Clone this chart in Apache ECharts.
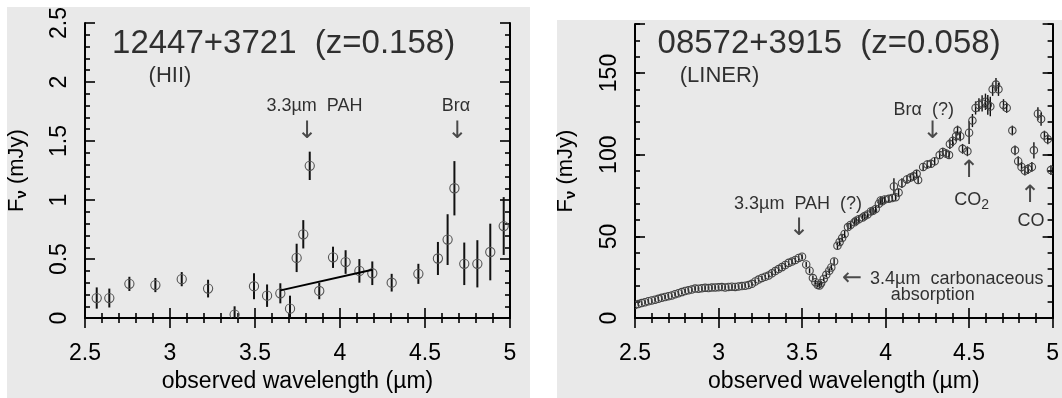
<!DOCTYPE html>
<html>
<head>
<meta charset="utf-8">
<script src="https://cdn.jsdelivr.net/npm/echarts@6/dist/echarts.min.js"></script>
<style>
  html, body { margin: 0; padding: 0; background: #fff; }
  #chart { width: 1062px; height: 398px; }
</style>
</head>
<body>
<div id="chart"></div>
<script>
// left panel: 12447+3721, photometry with error bars
const wlA = [2.569, 2.643, 2.761, 2.914, 3.069, 3.224, 3.380, 3.494, 3.571, 3.649, 3.706, 3.745, 3.784, 3.822,
  3.878, 3.959, 4.033, 4.114, 4.190, 4.304, 4.461, 4.576, 4.633, 4.673, 4.731, 4.808, 4.884, 4.963]
const fluxA = [0.17, 0.17, 0.29, 0.28, 0.33, 0.25, 0.03, 0.27, 0.19, 0.21, 0.08, 0.51, 0.71, 1.29,
  0.23, 0.515, 0.475, 0.40, 0.38, 0.30, 0.375, 0.505, 0.665, 1.10, 0.46, 0.46, 0.56, 0.78]
const errA = [0.09, 0.08, 0.06, 0.06, 0.06, 0.075, 0.07, 0.11, 0.095, 0.085, 0.11, 0.12, 0.12, 0.12,
  0.07, 0.09, 0.10, 0.10, 0.10, 0.075, 0.085, 0.14, 0.215, 0.23, 0.18, 0.20, 0.24, 0.245]
// continuum fit under the PAH feature
const fitWl = [3.65, 4.19]
const fitFlux = [0.235, 0.41]

// right panel: 08572+3915 spectrum
const wlB = [2.50, 2.52, 2.54, 2.56, 2.58, 2.60, 2.62, 2.64, 2.66, 2.68, 2.70, 2.72, 2.74, 2.76, 2.78, 2.80,
  2.82, 2.84, 2.86, 2.88, 2.90, 2.92, 2.94, 2.96, 2.98, 3.00, 3.02, 3.04, 3.06, 3.08, 3.10, 3.12, 3.14,
  3.16, 3.18, 3.20, 3.22, 3.24, 3.26, 3.28, 3.30, 3.32, 3.34, 3.36, 3.38, 3.40, 3.42, 3.44, 3.46, 3.48, 3.50,
  3.525, 3.545, 3.565, 3.58, 3.594, 3.605, 3.614, 3.63, 3.645, 3.663,
  3.675, 3.692, 3.712, 3.725, 3.74, 3.755, 3.775, 3.79, 3.814, 3.824,
  3.84, 3.863, 3.875, 3.892, 3.912, 3.925, 3.941, 3.96, 3.971, 3.98,
  3.995, 4.02, 4.04, 4.05, 4.06, 4.078, 4.098, 4.128, 4.15, 4.167,
  4.186, 4.195, 4.225, 4.25, 4.272, 4.294, 4.324, 4.343, 4.362, 4.38,
  4.385, 4.402, 4.422, 4.431, 4.447, 4.461, 4.49, 4.50, 4.52, 4.539,
  4.559, 4.578, 4.598, 4.612, 4.627, 4.641, 4.661, 4.676, 4.706, 4.725,
  4.759, 4.775, 4.794, 4.814, 4.834, 4.853, 4.876, 4.888, 4.912, 4.931,
  4.951, 4.971, 4.99]
const fluxB = [8.0, 8.6, 9.2, 9.7, 10.3, 10.8, 11.3, 11.8, 12.4, 12.9, 13.4, 13.9, 14.6, 15.2, 15.9, 16.6,
  17.0, 17.5, 18.1, 18.0, 18.3, 18.5, 18.4, 18.7, 18.8, 18.9, 19.0, 18.8, 19.1, 19.2, 19.1, 19.4, 19.6,
  19.8, 20.2, 21.0, 22.4, 23.6, 24.6, 25.3, 26.0, 27.4, 28.8, 30.0, 31.2, 32.5, 33.8, 34.6, 35.6, 36.8, 37.6,
  32.8, 29.0, 24.5, 22.0, 20.3, 20.0, 21.4, 24.0, 26.5, 29.0,
  31.0, 34.7, 44.3, 46.5, 49.0, 51.5, 55.7, 57.0, 58.6, 59.6,
  60.5, 61.5, 62.5, 63.4, 65.3, 65.7, 66.8, 70.0, 72.0, 71.5,
  72.6, 73.0, 73.5, 80.6, 74.0, 76.8, 82.6, 84.9, 86.0, 86.8,
  88.3, 84.5, 92.5, 94.0, 94.4, 96.0, 99.8, 101.7, 100.7, 99.8,
  106.5, 108.4, 111.3, 114.8, 111.3, 103.6, 102.1, 113.5, 120.9, 128.6,
  130.5, 131.4, 132.4, 130.5, 129.5, 140.0, 142.9, 140.0, 130.5, 128.6,
  114.8, 102.7, 96.0, 92.5, 90.2, 91.2, 92.5, 102.7, 125.1, 121.8,
  111.7, 109.4, 90.6]
const errB = [1.2, 1.2, 1.2, 1.2, 1.2, 1.2, 1.2, 1.2, 1.2, 1.2, 1.2, 1.2, 1.2, 1.2, 1.2, 1.2,
  1.2, 1.2, 1.2, 1.2, 1.2, 1.2, 1.2, 1.2, 1.2, 1.2, 1.2, 1.2, 1.2, 1.2, 1.2, 1.2, 1.2,
  1.2, 1.2, 1.2, 1.2, 1.2, 1.2, 1.2, 1.2, 1.5, 1.5, 1.5, 1.5, 1.5, 1.5, 1.5, 1.5, 1.5, 1.5,
  1.5, 1.5, 1.5, 1.5, 1.5, 1.5, 1.5, 1.5, 1.5, 1.5,
  1.5, 2.0, 2.0, 2.0, 2.0, 2.0, 2.0, 2.0, 2.0, 2.0,
  2.0, 2.0, 2.0, 2.0, 2.0, 2.0, 2.0, 2.0, 2.5, 2.0,
  2.0, 2.0, 2.0, 5.0, 2.0, 2.5, 3.0, 2.5, 2.5, 2.5,
  2.5, 2.5, 2.5, 2.5, 2.5, 2.5, 2.5, 2.5, 2.5, 2.5,
  3.0, 3.0, 3.0, 3.0, 3.0, 3.0, 3.0, 7.0, 4.0, 4.0,
  4.0, 5.0, 5.0, 6.0, 6.0, 4.0, 4.0, 4.0, 3.5, 3.0,
  3.0, 3.0, 3.0, 3.0, 3.0, 3.0, 3.0, 5.0, 4.0, 4.0,
  3.0, 3.0, 3.0]

const font = 'Liberation Sans'
const arrowFont = 'DejaVu Sans'

function errorBars(r, barW, circ) {
  return function (params, api) {
    const x = api.value(0), y = api.value(1), e = api.value(2)
    const p = api.coord([x, y])
    const lo = api.coord([x, y - e])
    const hi = api.coord([x, y + e])
    return {
      type: 'group',
      children: [
        { type: 'line', shape: { x1: p[0], y1: lo[1], x2: p[0], y2: hi[1] }, style: { stroke: '#111', lineWidth: barW } },
        { type: 'circle', shape: { cx: p[0], cy: p[1], r: r }, style: { fill: 'none', stroke: circ, lineWidth: 1.1 } }
      ]
    }
  }
}

function note(x, y, text, size, opts) {
  return {
    value: [x, y],
    label: Object.assign({
      show: true, position: 'inside', formatter: text, fontSize: size, fontFamily: font,
      color: '#000', align: 'center', verticalAlign: 'middle'
    }, opts || {})
  }
}
function arrow(x, y, ch) {
  return note(x, y, ch, 24, { fontFamily: arrowFont, color: '#222' })
}
// CO2 with a real subscript
const subRich = {
  a: { fontSize: 18, fontFamily: font, color: '#000' },
  s: { fontSize: 14, fontFamily: font, color: '#000', padding: [9, 0, 0, 0] }
}

const axisLine = { show: true, lineStyle: { color: '#000', width: 2 } }
function xAx(grid, pos, withLabels) {
  return {
    type: 'value', gridIndex: grid, position: pos, min: 2.5, max: 5, interval: 0.5,
    axisLine: axisLine,
    axisTick: { inside: true, length: 10, lineStyle: { color: '#000', width: 1.6 } },
    minorTick: { show: true, splitNumber: 5, length: 5, lineStyle: { color: '#000', width: 1.6 } },
    splitLine: { show: false },
    axisLabel: withLabels ? { show: true, margin: 24, fontSize: 23, fontFamily: font, color: '#000' } : { show: false },
    name: withLabels ? 'observed wavelength (\u00b5m)' : '',
    nameLocation: 'middle', nameGap: 41,
    nameTextStyle: { fontSize: 23, fontFamily: font, color: '#000' }
  }
}
const yName = {
  name: '{f|F}{nu|\u03bd} (mJy)',
  nameLocation: 'middle', nameRotate: 90,
  nameTextStyle: {
    fontSize: 22, fontFamily: font, color: '#000',
    rich: {
      f: { fontSize: 22, fontFamily: font, color: '#000' },
      nu: { fontSize: 15, fontWeight: 'bold', fontFamily: font, color: '#000', padding: [10, 0, 0, 0] }
    }
  }
}

const chart = echarts.init(document.getElementById('chart'))
chart.setOption({
  animation: false,
  backgroundColor: '#fff',
  graphic: [
    { type: 'rect', z: -100, shape: { x: 7, y: 7, width: 523, height: 391 }, style: { fill: '#e9e9e9' } },
    { type: 'rect', z: -100, shape: { x: 557, y: 20, width: 505, height: 378 }, style: { fill: '#e9e9e9' } }
  ],
  grid: [
    { left: 85, top: 23, width: 425, height: 314 },
    { left: 635, top: 24, width: 425, height: 313 }
  ],
  xAxis: [xAx(0, 'bottom', true), xAx(0, 'top', false), xAx(1, 'bottom', true), xAx(1, 'top', false)],
  yAxis: [
    Object.assign({
      type: 'value', gridIndex: 0, position: 'left', min: 0, max: 2.5, interval: 0.5,
      axisLine: axisLine,
      axisTick: { inside: true, length: 10, lineStyle: { color: '#000', width: 1.6 } },
      minorTick: { show: true, splitNumber: 5, length: 5, lineStyle: { color: '#000', width: 1.6 } },
      splitLine: { show: false },
      axisLabel: { rotate: 90, margin: 14, fontSize: 23, fontFamily: font, color: '#000' },
      nameGap: 56
    }, yName),
    {
      type: 'value', gridIndex: 0, position: 'right', min: 0, max: 2.5, interval: 0.5,
      axisLine: axisLine,
      axisTick: { inside: true, length: 10, lineStyle: { color: '#000', width: 1.6 } },
      minorTick: { show: true, splitNumber: 5, length: 5, lineStyle: { color: '#000', width: 1.6 } },
      splitLine: { show: false }, axisLabel: { show: false }
    },
    Object.assign({
      type: 'value', gridIndex: 1, position: 'left', min: 0, max: 180, interval: 50,
      axisLine: axisLine,
      axisTick: { inside: true, length: 10, lineStyle: { color: '#000', width: 1.6 } },
      splitLine: { show: false },
      axisLabel: { rotate: 90, margin: 14, fontSize: 23, fontFamily: font, color: '#000',
        formatter: v => (v % 50 === 0 ? String(v) : '') },
      nameGap: 57
    }, yName),
    {
      type: 'value', gridIndex: 1, position: 'left', min: 0, max: 180, interval: 10,
      axisLine: { show: false },
      axisTick: { inside: true, length: 5, lineStyle: { color: '#000', width: 1.6 } },
      splitLine: { show: false }, axisLabel: { show: false }
    },
    {
      type: 'value', gridIndex: 1, position: 'right', min: 0, max: 180, interval: 50,
      axisLine: axisLine,
      axisTick: { inside: true, length: 10, lineStyle: { color: '#000', width: 1.6 } },
      splitLine: { show: false }, axisLabel: { show: false }
    },
    {
      type: 'value', gridIndex: 1, position: 'right', min: 0, max: 180, interval: 10,
      axisLine: { show: false },
      axisTick: { inside: true, length: 5, lineStyle: { color: '#000', width: 1.6 } },
      splitLine: { show: false }, axisLabel: { show: false }
    }
  ],
  series: [
    {
      name: '12447+3721', type: 'custom', xAxisIndex: 0, yAxisIndex: 0, clip: true,
      renderItem: errorBars(4.6, 2, '#555'),
      data: wlA.map((w, i) => [w, fluxA[i], errA[i]])
    },
    {
      name: 'fit', type: 'line', xAxisIndex: 0, yAxisIndex: 0, symbol: 'none',
      lineStyle: { color: '#000', width: 2 },
      data: fitWl.map((w, i) => [w, fitFlux[i]])
    },
    {
      name: '08572+3915', type: 'custom', xAxisIndex: 2, yAxisIndex: 2, clip: true,
      renderItem: errorBars(3.7, 1.4, '#444'),
      data: wlB.map((w, i) => [w, fluxB[i], errB[i]])
    },
    {
      name: 'notesA', type: 'scatter', xAxisIndex: 0, yAxisIndex: 0, symbolSize: 0, silent: true,
      data: [
        note(2.659, 2.32, '12447+3721  (z=0.158)', 33, { align: 'left' }),
        note(3.0, 2.054, '(HII)', 22),
        note(3.85, 1.80, '3.3\u00b5m  PAH', 18),
        arrow(3.806, 1.58, '\u2193'),
        note(4.682, 1.80, 'Br\u03b1', 18),
        arrow(4.69, 1.58, '\u2193')
      ]
    },
    {
      name: 'notesB', type: 'scatter', xAxisIndex: 2, yAxisIndex: 2, symbolSize: 0, silent: true,
      data: [
        note(2.635, 167.8, '08572+3915  (z=0.058)', 33, { align: 'left' }),
        note(3.006, 148.3, '(LINER)', 22),
        note(4.229, 127.6, 'Br\u03b1  (?)', 18),
        arrow(4.282, 114, '\u2193'),
        arrow(4.5, 90, '\u2191'),
        note(4.515, 72, '{a|CO}{s|2}', 18, { rich: subRich }),
        arrow(4.865, 75, '\u2191'),
        note(4.871, 59.5, 'CO', 18),
        note(3.476, 70.1, '3.3\u00b5m  PAH  (?)', 18),
        arrow(3.482, 54.5, '\u2193'),
        arrow(3.8, 24.1, '\u2190'),
        note(4.426, 24.1, '3.4\u00b5m  carbonaceous', 18),
        note(4.282, 14.2, 'absorption', 18)
      ]
    }
  ]
})
</script>
</body>
</html>
